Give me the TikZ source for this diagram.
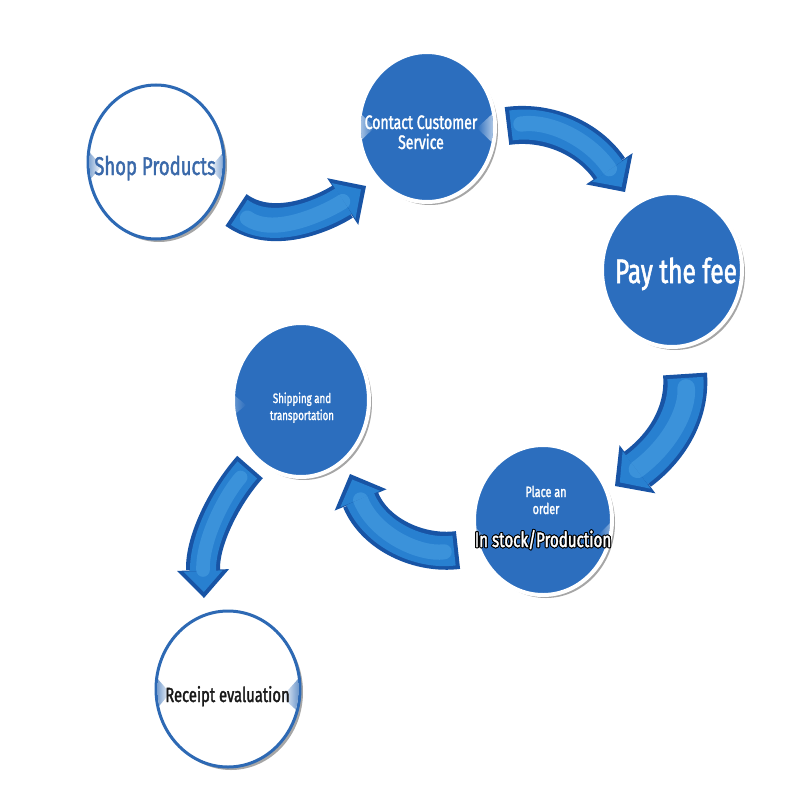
\documentclass[tikz,border=0pt]{standalone}
\usepackage{fontspec}
\setmainfont{Fira Sans}
\newfontfamily\cond{Fira Sans}[FakeStretch=0.72,FakeBold=1.6]
\usepackage{contour}
\contourlength{1.0pt}
\contournumber{16}
\usetikzlibrary{arrows.meta,shapes.geometric,shadows}
\definecolor{cblue}{RGB}{44,110,190}
\definecolor{ringblue}{RGB}{45,105,180}
\definecolor{arrdark}{RGB}{24,84,165}
\definecolor{arrmid}{RGB}{40,128,208}
\definecolor{arrhl}{RGB}{95,180,238}
\definecolor{shoptext}{RGB}{58,105,170}
\newcommand{\flowarrow}[3]{%
  \pgfmathsetmacro{\iw}{#1-8}\pgfmathsetmacro{\ihw}{#2-13}\pgfmathsetmacro{\hw}{#1*0.4}%
  \draw[draw=arrdark, line width=#1pt, -{Triangle[length=28pt,width=#2pt,line width=0pt]}] #3;
  \draw[draw=arrmid, line width=\iw pt, shorten >=6pt, shorten <=4pt, -{Triangle[length=21pt,width=\ihw pt,line width=0pt]}] #3;
  \draw[draw=arrhl, line width=\hw pt, opacity=0.35, line cap=round, shorten >=28pt, shorten <=14pt] #3;
}
\begin{document}
\begin{tikzpicture}[x=1pt,y=-1pt,
  circshadow/.style={drop shadow={shadow xshift=3pt,shadow yshift=-3pt,opacity=0.35,fill=black}},
  bluecirc/.style={ellipse, fill=cblue, draw=white, line width=4pt, inner sep=0pt, circshadow},
  whitecirc/.style={ellipse, fill=white, draw=ringblue, line width=3pt, inner sep=0pt, circshadow},
  lbl/.style={anchor=base, inner sep=0pt},
]
\useasboundingbox (0,0) rectangle (800,800);
\fill[white] (0,0) rectangle (800,800);

% circles
\node[whitecirc, minimum width=136pt, minimum height=154pt] (shop) at (156,162) {};
\node[bluecirc, minimum width=136pt, minimum height=150pt] (contact) at (427,127) {};
\node[bluecirc, minimum width=140pt, minimum height=154pt] (pay) at (672,270) {};
\node[bluecirc, minimum width=136pt, minimum height=154pt] (ship) at (301,400) {};
\node[bluecirc, minimum width=138pt, minimum height=150pt] (place) at (543,520) {};
\node[whitecirc, minimum width=144pt, minimum height=156pt] (receipt) at (228,689) {};

% wedges
\begin{scope}
  \clip (shop.center) ellipse [x radius=66.5, y radius=75.5];
  \shade[left color=ringblue, right color=white] (80,142) -- (102,166) -- (80,191) -- cycle;
  \shade[left color=white, right color=ringblue] (232,142) -- (210,168) -- (232,193) -- cycle;
\end{scope}
\begin{scope}
  \clip (receipt.center) ellipse [x radius=70.5, y radius=76.5];
  \shade[left color=ringblue, right color=white] (150,670) -- (170,693) -- (150,717) -- cycle;
  \shade[left color=white, right color=ringblue] (306,670) -- (282,697) -- (306,719) -- cycle;
\end{scope}
\begin{scope}
  \clip (contact.center) ellipse [x radius=66, y radius=73];
  \shade[left color=white, right color=cblue] (350,104) -- (375,127) -- (350,151) -- cycle;
  \shade[left color=cblue, right color=white] (503,104) -- (477,128) -- (503,153) -- cycle;
\end{scope}
\begin{scope}
  \clip (place.center) ellipse [x radius=67, y radius=73];
  \shade[left color=white, right color=cblue, opacity=0.6] (468,520) -- (486,538) -- (468,556) -- cycle;
  \shade[left color=cblue, right color=white, opacity=0.7] (618,515) -- (598,535) -- (618,556) -- cycle;
\end{scope}
\begin{scope}
  \clip (ship.center) ellipse [x radius=66, y radius=75];
  \shade[left color=white, right color=cblue, opacity=0.4] (228,390) -- (246,405) -- (228,420) -- cycle;
\end{scope}

% texts
\node[lbl, font=\cond\fontsize{25.7}{30}\selectfont, text=shoptext] (tshop) at (155,175) {Shop Products};
\node[lbl, font=\cond\fontsize{19.5}{21}\selectfont, text=white] (tcontact1) at (421,129) {Contact Customer};
\node[lbl, font=\cond\fontsize{19.5}{21}\selectfont, text=white] (tcontact2) at (421,149) {Service};
\node[lbl, font=\cond\fontsize{34}{38}\selectfont, text=white] (tpay) at (676,283) {Pay the fee};
\node[lbl, font=\cond\fontsize{13.5}{16}\selectfont, text=white] (tship1) at (302,403) {Shipping and};
\node[lbl, font=\cond\fontsize{13.5}{16}\selectfont, text=white] (tship2) at (302,420) {transportation};
\node[lbl, font=\cond\fontsize{15}{18}\selectfont, text=white] (tplace1) at (546,497) {Place an};
\node[lbl, font=\cond\fontsize{15}{18}\selectfont, text=white] (tplace2) at (546,514) {order};
\node[lbl, font=\cond\fontsize{21}{24}\selectfont, text=white] (tstock) at (543,547) {\contour{black}{In stock/Production}};
\node[lbl, font=\cond\fontsize{20.5}{24}\selectfont, text=black!90] (treceipt) at (227.5,702) {Receipt evaluation};

% arrow end points
\coordinate (a1s) at (236,210);
\coordinate (a1e) at (366,186);
\coordinate (a2s) at (507,126);
\coordinate (a2e) at (625,192);
\coordinate (a3s) at (685,374);
\coordinate (a3e) at (615,486);
\coordinate (a4s) at (458,550);
\coordinate (a4e) at (350,474);
\coordinate (a5s) at (250,467);
\coordinate (a5e) at (204,598);

\flowarrow{38}{56}{(a1s) .. controls (275,238) and (330,210) .. (a1e)}
\flowarrow{38}{56}{(a2s) .. controls (550,120) and (590,140) .. (a2e)}
\flowarrow{44}{60}{(a3s) .. controls (688,410) and (670,445) .. (a3e)}
\flowarrow{38}{56}{(a4s) .. controls (420,555) and (375,535) .. (a4e)}
\flowarrow{34}{52}{(a5s) .. controls (225,495) and (202,540) .. (a5e)}
\end{tikzpicture}
\end{document}
